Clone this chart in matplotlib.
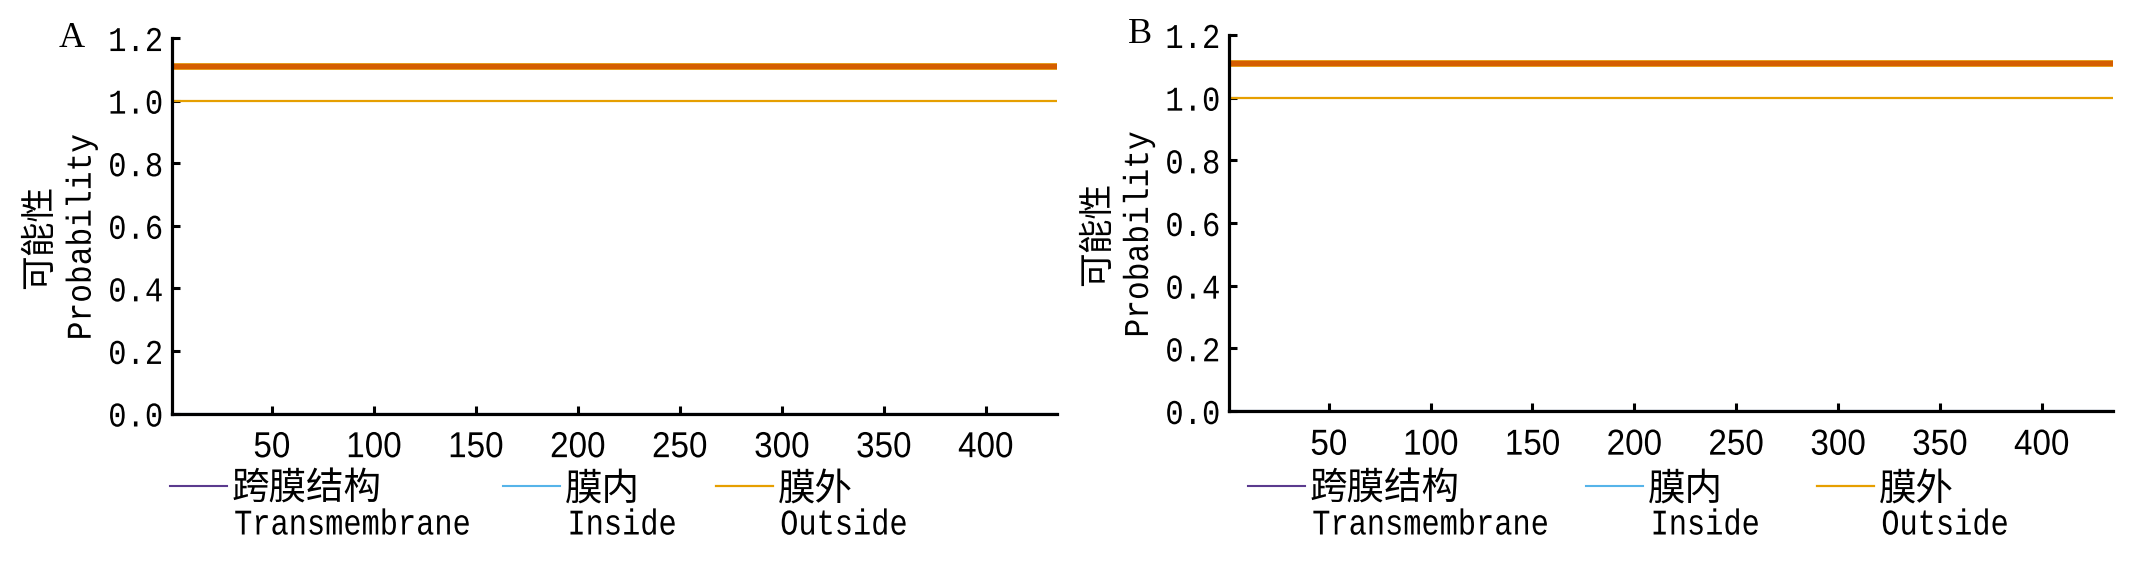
import numpy as np
import matplotlib
matplotlib.use("Agg")
import matplotlib.pyplot as plt
from matplotlib.legend import Legend
from matplotlib.transforms import Affine2D
import matplotlib.patheffects as pe

# ---------------- data ----------------
residues = [1, 435]                 # sequence span (first, last residue)
transmembrane_prob = [0.0, 0.0]
inside_prob = [0.0, 0.0]
outside_prob = [1.0, 1.0]
topology_level = [1.11, 1.11]       # predicted topology bar (all outside)
xticks = [50, 100, 150, 200, 250, 300, 350, 400]
yticks = [0.0, 0.2, 0.4, 0.6, 0.8, 1.0, 1.2]
panel_labels = ["A", "B"]
legend_cn = ["跨膜结构", "膜内", "膜外"]
legend_en = ["Transmembrane", "Inside", "Outside"]
ylabel_cn = "可能性"
ylabel_en = "Probability"

# ---------------- style ----------------
C_TM = "#5B3A8E"
C_IN = "#56B4E9"
C_OUT = "#E69F00"
C_TOPO = "#D55E00"
CJK = ["Noto Sans CJK SC", "DejaVu Sans"]
MONO = ["Liberation Mono", "DejaVu Sans Mono"]


class Condense(pe.AbstractPathEffect):
    """Horizontally condense glyphs around a pivot (left/center/right)."""

    def __init__(self, sx=0.88, align="left"):
        super().__init__()
        self.sx = sx
        self.align = align

    def draw_path(self, renderer, gc, tpath, affine, rgbFace=None):
        ext = tpath.get_extents()
        if self.align == "center":
            piv = 0.5 * (ext.x0 + ext.x1)
        elif self.align == "right":
            piv = ext.x1
        else:
            piv = ext.x0
        t = Affine2D().translate(-piv, 0).scale(self.sx, 1.0).translate(piv, 0)
        renderer.draw_path(gc, tpath, t + affine, rgbFace)


W_PX, H_PX = 2133, 568
fig = plt.figure(figsize=(W_PX / 100, H_PX / 100), dpi=100)
rects = [[0.0806, 0.272, 0.415, 0.661], [0.5762, 0.2764, 0.4144, 0.662]]
panel_dx_px = [-100, -89]
handle_off_px = [[-2, 331, 544], [19, 357, 588]]
cn_row_px = 489
en_row_px = 525
text_gap_px = 64
LEG_FS = 27

for i, rect in enumerate(rects):
    ax = fig.add_axes(rect)
    Wd = rect[2] * W_PX
    B = (1 - rect[1]) * H_PX
    Ht = rect[3] * H_PX
    fx = lambda px: px / Wd
    fy = lambda py: (B - py) / Ht

    h_tm, = ax.plot(residues, transmembrane_prob, color=C_TM, lw=1.5, clip_on=False, zorder=1)
    h_in, = ax.plot(residues, inside_prob, color=C_IN, lw=1.5, clip_on=False, zorder=1.5)
    h_out, = ax.plot(residues, outside_prob, color=C_OUT, lw=1.6)
    ax.plot(residues, topology_level, color=C_TOPO, lw=3.9, solid_capstyle="butt",
            path_effects=[pe.Stroke(linewidth=4.8, foreground=C_OUT), pe.Normal()])

    ax.set_xlim(residues[0], residues[-1])
    ax.set_ylim(0, 1.2)
    ax.set_xticks(xticks)
    ax.set_xticklabels([str(v) for v in xticks], fontfamily="Liberation Sans", fontsize=26)
    ax.set_yticks(yticks)
    ax.set_yticklabels(["%.1f" % v for v in yticks], fontfamily=MONO, fontsize=25)
    for t in ax.get_xticklabels():
        t.set_path_effects([Condense(0.92, "center")])
    for t in ax.get_yticklabels():
        t.set_path_effects([Condense(0.88, "right")])
    for s in ["top", "right"]:
        ax.spines[s].set_visible(False)
    for s in ["left", "bottom"]:
        ax.spines[s].set_linewidth(2.3)
    ax.tick_params(axis="both", direction="in", length=6, width=2.2, colors="black")
    ax.tick_params(axis="y", pad=6)
    ax.tick_params(axis="x", pad=12)

    ax.text(-0.149, 0.47, ylabel_cn, rotation=90, transform=ax.transAxes,
            ha="center", va="center", fontfamily=CJK, fontsize=25)
    ax.text(-0.1025, 0.47, ylabel_en, rotation=90, transform=ax.transAxes,
            ha="center", va="center", fontfamily=MONO, fontsize=25,
            path_effects=[Condense(0.9, "center")])
    ax.text(fx(panel_dx_px[i]), 1.0, panel_labels[i], transform=ax.transAxes,
            ha="center", va="center", fontfamily="Liberation Serif", fontsize=26)

    handles = [h_tm, h_in, h_out]
    for j, h in enumerate(handles):
        hx = handle_off_px[i][j]
        leg = Legend(ax, [h], [legend_cn[j]], loc="center left",
                     bbox_to_anchor=(fx(hx), fy(cn_row_px)),
                     bbox_transform=ax.transAxes, frameon=False,
                     prop={"family": CJK, "size": LEG_FS},
                     handlelength=1.52, handletextpad=0.12,
                     borderpad=0, borderaxespad=0)
        ax.add_artist(leg)
        ax.text(fx(hx + text_gap_px), fy(en_row_px), legend_en[j],
                transform=ax.transAxes, ha="left", va="center",
                fontfamily=MONO, fontsize=26, clip_on=False,
                path_effects=[Condense(0.84, "left")])

fig.savefig("out.png", dpi=100)
